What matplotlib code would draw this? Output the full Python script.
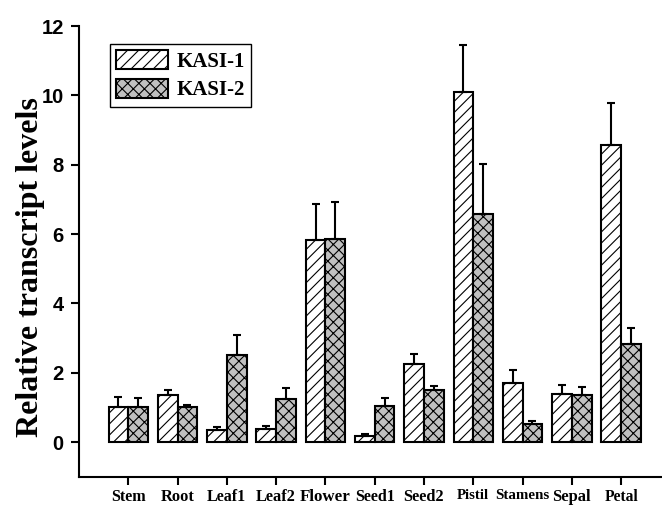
import matplotlib
matplotlib.use("Agg")
import matplotlib.pyplot as plt
import numpy as np

tissues = ["Stem", "Root", "Leaf1", "Leaf2", "Flower", "Seed1", "Seed2",
           "Pistil", "Stamens", "Sepal", "Petal"]
kasi1 = [1.00, 1.35, 0.34, 0.38, 5.82, 0.18, 2.26, 10.10, 1.71, 1.38, 8.58]
kasi1_err = [0.31, 0.15, 0.08, 0.09, 1.04, 0.05, 0.27, 1.36, 0.37, 0.26, 1.21]
kasi2 = [1.00, 1.01, 2.51, 1.24, 5.85, 1.03, 1.51, 6.59, 0.53, 1.35, 2.84]
kasi2_err = [0.28, 0.06, 0.57, 0.32, 1.07, 0.25, 0.11, 1.44, 0.07, 0.23, 0.45]

# tick labels were typed in slightly different sizes
label_sizes = [11.6, 11.8, 11.5, 11.8, 12.2, 11.6, 11.8, 10.6, 10.8, 11.9, 11.2]

plt.rcParams["hatch.linewidth"] = 0.8

fig = plt.figure(figsize=(6.62, 5.05), dpi=100)
ax = fig.add_axes([0.1193, 0.056, 0.8807, 0.8925])

x = np.arange(1, len(tissues) + 1)
w = 0.4
err_kw = dict(elinewidth=1.5, capsize=3.2, capthick=1.5, ecolor="black")

ax.bar(x - w / 2, kasi1, w, yerr=[np.zeros(len(kasi1)), kasi1_err],
       color="white", edgecolor="black", linewidth=1.5, hatch="///",
       error_kw=err_kw, label="KASI-1")
ax.bar(x + w / 2, kasi2, w, yerr=[np.zeros(len(kasi2)), kasi2_err],
       color="#c0c0c0", edgecolor="black", linewidth=1.5, hatch="xxx",
       error_kw=err_kw, label="KASI-2")

ax.set_xlim(0, 11.83)
ax.set_ylim(-1, 12)
ax.set_yticks(np.arange(0, 13, 2))
ax.set_xticks(x)
ax.set_xticklabels(tissues, family="Liberation Serif", fontweight="bold")
for lab, size in zip(ax.get_xticklabels(), label_sizes):
    lab.set_fontsize(size)
for lab in ax.get_yticklabels():
    lab.set_family("Liberation Sans")
    lab.set_fontweight("bold")
    lab.set_fontsize(14.5)

ax.spines["top"].set_visible(False)
ax.spines["right"].set_visible(False)
ax.spines["left"].set_linewidth(1.5)
ax.spines["bottom"].set_linewidth(1.5)
ax.tick_params(axis="both", direction="out", length=6, width=1.5)
ax.tick_params(axis="x", pad=2.5)
ax.tick_params(axis="y", pad=5)

ax.set_ylabel("Relative transcript levels", family="Liberation Serif",
              fontweight="bold", fontsize=23)
ax.yaxis.set_label_coords(-0.058, 0.465)

ax.legend(loc="upper left", bbox_to_anchor=(0.053, 0.96), borderaxespad=0,
          prop={"family": "Liberation Serif", "weight": "bold", "size": 15},
          handlelength=2.5, handleheight=1.0, fancybox=False,
          edgecolor="black", framealpha=1, borderpad=0.3, handletextpad=0.4,
          labelspacing=0.35)

fig.savefig("out.png", dpi=100)
